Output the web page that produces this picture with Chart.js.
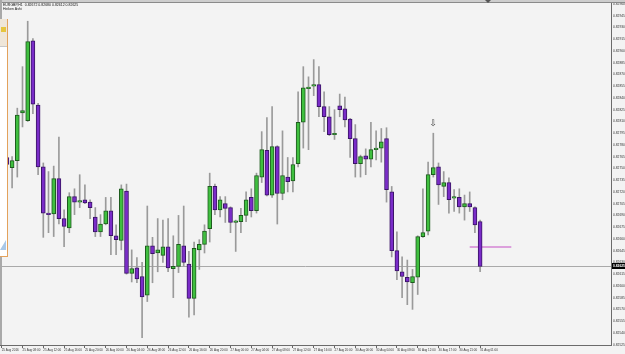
<!DOCTYPE html>
<html>
<head>
<meta charset="utf-8">
<title>EURGBP,H1</title>
<script src="https://cdn.jsdelivr.net/npm/chart.js@4.4.1/dist/chart.umd.min.js"></script>
<style>
  html, body { margin: 0; padding: 0; background: #f3f3f3; overflow: hidden; }
  canvas { display: block; }
</style>
</head>
<body>
<canvas id="chart" width="625" height="354"></canvas>
<script>
// time axis labels, one every 4 hourly bars
var timeLabels = ['25 Aug 2016', '25 Aug 08:00', '25 Aug 12:00', '25 Aug 16:00', '25 Aug 20:00',
    '26 Aug 00:00', '26 Aug 04:00', '26 Aug 08:00', '26 Aug 12:00', '26 Aug 16:00', '26 Aug 20:00',
    '27 Aug 00:00', '27 Aug 04:00', '27 Aug 08:00', '27 Aug 12:00', '27 Aug 16:00', '27 Aug 20:00',
    '30 Aug 00:00', '30 Aug 04:00', '30 Aug 08:00', '30 Aug 12:00', '30 Aug 17:00', '30 Aug 21:00',
    '31 Aug 01:00'];

// Heiken Ashi candles (H1)
var openPrices = [0.82748, 0.82764, 0.82751, 0.82760, 0.82821, 0.82811, 0.82913, 0.82831, 0.82752, 0.82693,
    0.82692, 0.82737, 0.82686, 0.82674, 0.82714, 0.82707, 0.82710, 0.82707, 0.82688, 0.82669,
    0.82679, 0.82696, 0.82664, 0.82658, 0.82721, 0.82616, 0.82623, 0.82612, 0.82588, 0.82651,
    0.82642, 0.82639, 0.82650, 0.82622, 0.82625, 0.82651, 0.82628, 0.82584, 0.82646, 0.82653,
    0.82673, 0.82727, 0.82697, 0.82705, 0.82700, 0.82681, 0.82682, 0.82690, 0.82713, 0.82696,
    0.82739, 0.82773, 0.82716, 0.82778, 0.82718, 0.82739, 0.82734, 0.82756, 0.82809, 0.82852,
    0.82855, 0.82857, 0.82829, 0.82816, 0.82793, 0.82830, 0.82826, 0.82813, 0.82788, 0.82756,
    0.82766, 0.82762, 0.82774, 0.82776, 0.82788, 0.82720, 0.82645, 0.82618, 0.82611, 0.82604,
    0.82611, 0.82663, 0.82670, 0.82742, 0.82752, 0.82727, 0.82732, 0.82712, 0.82713, 0.82701,
    0.82705, 0.82700, 0.82682];
var highPrices = [0.82767, 0.82769, 0.82765, 0.82827, 0.82880, 0.82938, 0.82916, 0.82833, 0.82757, 0.82746,
    0.82753, 0.82790, 0.82697, 0.82719, 0.82724, 0.82742, 0.82729, 0.82710, 0.82700, 0.82691,
    0.82713, 0.82713, 0.82678, 0.82729, 0.82730, 0.82646, 0.82636, 0.82630, 0.82702, 0.82662,
    0.82686, 0.82684, 0.82686, 0.82664, 0.82690, 0.82702, 0.82644, 0.82656, 0.82659, 0.82678,
    0.82744, 0.82730, 0.82714, 0.82714, 0.82701, 0.82684, 0.82699, 0.82720, 0.82724, 0.82744,
    0.82797, 0.82815, 0.82829, 0.82779, 0.82798, 0.82764, 0.82764, 0.82848, 0.82880, 0.82867,
    0.82889, 0.82880, 0.82848, 0.82829, 0.82825, 0.82845, 0.82841, 0.82814, 0.82806, 0.82767,
    0.82775, 0.82809, 0.82798, 0.82801, 0.82802, 0.82727, 0.82669, 0.82637, 0.82633, 0.82621,
    0.82664, 0.82724, 0.82758, 0.82795, 0.82757, 0.82746, 0.82738, 0.82723, 0.82724, 0.82716,
    0.82720, 0.82701, 0.82684];
var lowPrices = [0.82738, 0.82748, 0.82725, 0.82739, 0.82803, 0.82810, 0.82820, 0.82742, 0.82662, 0.82668,
    0.82663, 0.82679, 0.82650, 0.82668, 0.82691, 0.82700, 0.82705, 0.82686, 0.82663, 0.82663,
    0.82678, 0.82640, 0.82640, 0.82646, 0.82615, 0.82605, 0.82604, 0.82534, 0.82580, 0.82604,
    0.82618, 0.82630, 0.82618, 0.82585, 0.82617, 0.82625, 0.82560, 0.82563, 0.82621, 0.82642,
    0.82656, 0.82691, 0.82688, 0.82681, 0.82668, 0.82644, 0.82668, 0.82682, 0.82688, 0.82693,
    0.82732, 0.82715, 0.82713, 0.82679, 0.82710, 0.82720, 0.82720, 0.82752, 0.82776, 0.82774,
    0.82843, 0.82816, 0.82797, 0.82792, 0.82787, 0.82816, 0.82803, 0.82764, 0.82739, 0.82739,
    0.82742, 0.82752, 0.82761, 0.82758, 0.82707, 0.82637, 0.82608, 0.82585, 0.82576, 0.82570,
    0.82589, 0.82662, 0.82665, 0.82739, 0.82704, 0.82714, 0.82693, 0.82695, 0.82693, 0.82684,
    0.82695, 0.82668, 0.82618];
var closePrices = [0.82758, 0.82755, 0.82760, 0.82818, 0.82824, 0.82912, 0.82832, 0.82752, 0.82693, 0.82691,
    0.82737, 0.82686, 0.82676, 0.82714, 0.82707, 0.82709, 0.82706, 0.82700, 0.82669, 0.82679,
    0.82696, 0.82664, 0.82659, 0.82724, 0.82616, 0.82622, 0.82609, 0.82586, 0.82651, 0.82641,
    0.82646, 0.82650, 0.82623, 0.82625, 0.82653, 0.82630, 0.82584, 0.82648, 0.82653, 0.82670,
    0.82727, 0.82697, 0.82710, 0.82699, 0.82681, 0.82683, 0.82690, 0.82710, 0.82696, 0.82741,
    0.82774, 0.82716, 0.82778, 0.82718, 0.82741, 0.82733, 0.82755, 0.82809, 0.82853, 0.82854,
    0.82857, 0.82829, 0.82816, 0.82793, 0.82795, 0.82825, 0.82812, 0.82788, 0.82756, 0.82765,
    0.82762, 0.82774, 0.82776, 0.82784, 0.82723, 0.82645, 0.82619, 0.82612, 0.82605, 0.82612,
    0.82663, 0.82668, 0.82742, 0.82751, 0.82729, 0.82732, 0.82710, 0.82714, 0.82701, 0.82705,
    0.82701, 0.82678, 0.82625];

// price scale labels
var priceTicks = [0.82960, 0.82945, 0.82930, 0.82915, 0.82900, 0.82885, 0.82870, 0.82855, 0.82840, 0.82825,
    0.82810, 0.82795, 0.82780, 0.82765, 0.82750, 0.82735, 0.82720, 0.82705, 0.82690, 0.82675,
    0.82660, 0.82645, 0.82630, 0.82615, 0.82600, 0.82585, 0.82570, 0.82555, 0.82540, 0.82525];

var lastPrice = 0.82625;
var levelPrice = 0.82650;   // pink horizontal segment
var levelFrom = 90;
var levelTo = 98;
var arrowBar = 83;
var arrowPrice = 0.82807;
var titleText = 'EURGBP,H1  0.82672 0.82680 0.82612 0.82625';

var bodies = [], wicks = [], bodyFill = [], bodyEdge = [];
openPrices.forEach(function(o, i) {
    var up = closePrices[i] >= o;
    bodies.push({x: i, y: [o, closePrices[i]]});
    wicks.push({x: i, y: [lowPrices[i], highPrices[i]]});
    bodyFill.push(up ? '#3fbf3f' : '#7a2cc8');
    bodyEdge.push(up ? '#1e5a1e' : '#3a1466');
});

var decorations = {
    id: 'decorations',
    beforeDraw: function(chart) {
        var c = chart.ctx;
        c.save();
        c.fillStyle = '#f3f3f3';
        c.fillRect(0, 0, chart.width, chart.height);
        c.restore();
    },
    beforeDatasetsDraw: function(chart) {
        var c = chart.ctx, xs = chart.scales.x, ys = chart.scales.y, a = chart.chartArea;
        c.save();
        // bid line
        var py = Math.round(ys.getPixelForValue(lastPrice)) + 0.5;
        c.strokeStyle = '#a9a9a9';
        c.lineWidth = 1;
        c.beginPath();
        c.moveTo(a.left, py);
        c.lineTo(a.right, py);
        c.stroke();
        // pink level
        var ly = Math.round(ys.getPixelForValue(levelPrice));
        c.strokeStyle = '#dca0dc';
        c.lineWidth = 2;
        c.beginPath();
        c.moveTo(xs.getPixelForValue(levelFrom), ly);
        c.lineTo(xs.getPixelForValue(levelTo), ly);
        c.stroke();
        c.restore();
    },
    afterDraw: function(chart) {
        var c = chart.ctx, xs = chart.scales.x, ys = chart.scales.y, a = chart.chartArea;
        c.save();

        // arrow mark
        c.fillStyle = '#444';
        c.font = '9px "DejaVu Sans"';
        c.textAlign = 'center';
        c.textBaseline = 'middle';
        c.fillText('\u21e9', xs.getPixelForValue(arrowBar), ys.getPixelForValue(arrowPrice));

        // top strip and chart shift marker
        c.fillStyle = '#cdcdcd';
        c.fillRect(0, 0, chart.width, 2);
        c.fillStyle = '#8a8a8a';
        c.fillRect(0, 2, chart.width, 1);
        c.fillStyle = '#555';
        c.beginPath();
        c.moveTo(485, 0);
        c.lineTo(491, 0);
        c.lineTo(488, 3);
        c.closePath();
        c.fill();

        // left window edge
        c.fillStyle = '#a9a9a9';
        c.fillRect(0, 0, 2, a.bottom);

        // docked panel
        c.fillStyle = '#ffffff';
        c.fillRect(0, 19, 7, 237);
        c.fillStyle = '#efe6d8';
        c.fillRect(0, 19, 7, 27);
        c.fillStyle = '#e6c53e';
        c.fillRect(1, 27, 5, 5);
        c.fillStyle = '#c8c8c8';
        c.fillRect(0, 46, 7, 1);
        c.fillStyle = '#a9c8e8';
        c.beginPath();
        c.moveTo(0, 250);
        c.lineTo(6, 240);
        c.lineTo(6, 250);
        c.closePath();
        c.fill();
        c.fillStyle = '#e3a25c';
        c.fillRect(7, 19, 1, 238);
        c.fillRect(0, 256, 8, 1);

        // title
        c.fillStyle = '#111';
        c.font = '3.5px "Liberation Sans"';
        c.textAlign = 'left';
        c.textBaseline = 'top';
        c.fillText(titleText, 3, 3.5);
        c.fillText('Heiken Ashi', 3, 7.5);

        // bid label on the price scale
        var py = Math.round(ys.getPixelForValue(lastPrice));
        c.fillStyle = '#000';
        c.fillRect(a.right + 1, py - 3, chart.width - a.right - 1, 6);
        c.fillStyle = '#fff';
        c.textBaseline = 'middle';
        c.font = 'bold 3.3px "Liberation Sans"';
        c.fillText(lastPrice.toFixed(5), a.right + 2, py);
        c.restore();
    }
};

var config = {
    type: 'bar',
    data: {
        datasets: [{
            label: 'body',
            data: bodies,
            backgroundColor: bodyFill,
            borderColor: bodyEdge,
            borderWidth: 1,
            borderSkipped: false,
            barThickness: 4,
            minBarLength: 1,
            grouped: false
        }, {
            label: 'wick',
            data: wicks,
            backgroundColor: '#9a9a9a',
            borderWidth: 0,
            barThickness: 1,
            grouped: false
        }]
    },
    options: {
        responsive: false,
        animation: false,
        events: [],
        layout: { padding: { top: 3, left: 0, right: 0, bottom: 0 } },
        plugins: {
            legend: { display: false },
            tooltip: { enabled: false }
        },
        scales: {
            x: {
                type: 'linear',
                min: -0.327,
                max: 117.17,
                offset: false,
                afterFit: function(s) { s.height = 9; },
                afterBuildTicks: function(s) {
                    s.ticks = timeLabels.map(function(t, i) { return {value: i * 4}; });
                },
                ticks: {
                    autoSkip: false,
                    maxRotation: 0,
                    align: 'start',
                    padding: 0.5,
                    color: '#333',
                    font: { size: 3, family: 'Liberation Sans' },
                    callback: function(v, i) { return timeLabels[i]; }
                },
                grid: { drawOnChartArea: false, offset: false, tickLength: 3, color: '#666' },
                border: { display: true, color: '#6b6b6b' }
            },
            y: {
                position: 'right',
                min: 0.825245,
                max: 0.829613,
                afterFit: function(s) { s.width = 14; },
                afterBuildTicks: function(s) {
                    s.ticks = priceTicks.map(function(v) { return {value: v}; });
                },
                ticks: {
                    autoSkip: false,
                    padding: 1,
                    color: '#333',
                    font: { size: 3.3, family: 'Liberation Sans' },
                    callback: function(v) { return v.toFixed(5); }
                },
                grid: { drawOnChartArea: false, tickLength: 1, color: '#666' },
                border: { display: true, color: '#6b6b6b' }
            }
        }
    },
    plugins: [decorations]
};

new Chart(document.getElementById('chart').getContext('2d'), config);
</script>
</body>
</html>
